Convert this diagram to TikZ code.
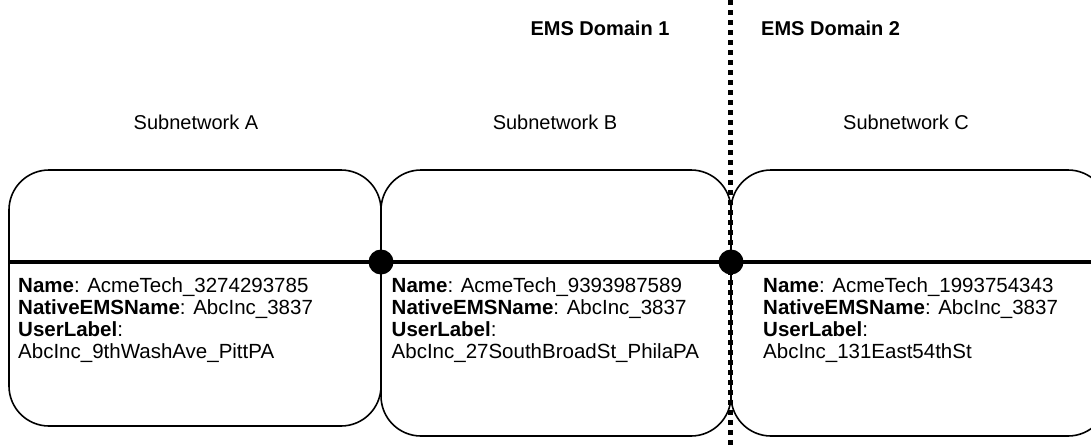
\documentclass[tikz,border=0pt]{standalone}
\usepackage{fontspec}
\setmainfont{Liberation Sans}
\begin{document}
\begin{tikzpicture}[x=1pt,y=-1pt,
  subbox/.style={draw=black, line width=1.6pt, rounded corners=40pt, inner sep=0pt, outer sep=0pt},
  junction/.style={circle, fill=black, inner sep=0pt, minimum size=25pt},
  busline/.style={line width=4pt},
  domainline/.style={line width=5pt, dash pattern=on 5pt off 5pt},
  boxtext/.style={anchor=north west, align=left, inner sep=0pt, font=\fontsize{20.5}{22}\selectfont},
  subtitle/.style={anchor=base, inner sep=0pt, font=\fontsize{20}{24}\selectfont},
  domtitle/.style={inner sep=0pt, font=\fontsize{20}{24}\selectfont\bfseries}
]
\useasboundingbox (0,0) rectangle (1091,447);
\clip (0,0) rectangle (1091,447);

% boxes
\node[subbox, minimum width=372pt, minimum height=256pt] (boxA) at (195,298) {};
\node[subbox, minimum width=350pt, minimum height=266pt] (boxB) at (556,303) {};
\node[subbox, minimum width=377pt, minimum height=266pt] (boxC) at (919.5,303) {};

% bus line
\coordinate (busstart) at (9,262);
\coordinate (busend) at (1091,262);
\draw[busline] (busstart) -- (busend);

% domain separator
\coordinate (domtop) at (730,0);
\coordinate (dombot) at (730,447);
\draw[domainline] (domtop) -- (dombot);

% junctions
\node[junction] (j1) at (381,262) {};
\node[junction] (j2) at (731,262) {};

% titles
\node[domtitle, anchor=base] (dom1) at (600,35) {EMS Domain 1};
\node[domtitle, anchor=base west] (dom2) at (761,35) {EMS Domain 2};
\node[subtitle] (subA) at (196,129) {Subnetwork A};
\node[subtitle] (subB) at (555,129) {Subnetwork B};
\node[subtitle] (subC) at (906,129) {Subnetwork C};

% box texts
\node[boxtext] (textA) at (18,277) {\textbf{Name}: AcmeTech\_3274293785\\\textbf{NativeEMSName}: AbcInc\_3837\\\textbf{UserLabel}:\\AbcInc\_9thWashAve\_PittPA};
\node[boxtext] (textB) at (391.5,277) {\textbf{Name}: AcmeTech\_9393987589\\\textbf{NativeEMSName}: AbcInc\_3837\\\textbf{UserLabel}:\\AbcInc\_27SouthBroadSt\_PhilaPA};
\node[boxtext] (textC) at (763,277) {\textbf{Name}: AcmeTech\_1993754343\\\textbf{NativeEMSName}: AbcInc\_3837\\\textbf{UserLabel}:\\AbcInc\_131East54thSt};
\end{tikzpicture}
\end{document}
